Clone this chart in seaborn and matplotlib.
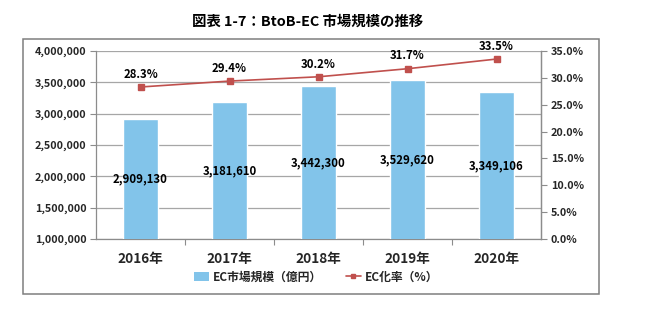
import matplotlib
matplotlib.use("Agg")
import matplotlib.pyplot as plt
import matplotlib.patches as mpatches
from matplotlib.lines import Line2D
from matplotlib.ticker import FuncFormatter, MultipleLocator, FixedLocator
import seaborn as sns
import pandas as pd

sns.set_theme(style="white")
plt.rcParams["font.family"] = ["Noto Sans CJK JP", "DejaVu Sans"]
plt.rcParams["font.weight"] = "bold"

# Data
years = ["2016年", "2017年", "2018年", "2019年", "2020年"]
market_size = [2909130, 3181610, 3442300, 3529620, 3349106]   # 億円
ec_rate = [28.3, 29.4, 30.2, 31.7, 33.5]                      # %

title = "図表 1-7：BtoB-EC 市場規模の推移"
bar_label = "EC市場規模（億円）"
line_label = "EC化率（%）"

bar_color = "#82C4EA"
line_color = "#C0504D"
grid_color = "#A6A6A6"
axis_color = "#8C8C8C"

df = pd.DataFrame({"year": years, "size": market_size, "rate": ec_rate})

fig = plt.figure(figsize=(6.45, 3.32), dpi=100)
ax = fig.add_axes([96 / 645, 1 - 239 / 332, 445 / 645, 188 / 332])

# Outer chart frame
frame = mpatches.Rectangle((23 / 645, 1 - 293.5 / 332), 576 / 645, 255 / 332,
                           transform=fig.transFigure, fill=False,
                           edgecolor="#7F7F7F", linewidth=1.1, zorder=0)
fig.patches.append(frame)

sns.barplot(data=df, x="year", y="size", color=bar_color, width=0.4,
            saturation=1, ax=ax, zorder=3)
ax.set_ylim(1000000, 4000000)
ax.set_xlim(-0.5, len(years) - 0.5)
ax.yaxis.set_major_locator(MultipleLocator(500000))
ax.yaxis.set_major_formatter(FuncFormatter(lambda v, p: f"{int(v):,}"))
ax.grid(axis="y", color=grid_color, linewidth=0.9, zorder=0)
ax.set_axisbelow(True)
ax.set_xlabel("")
ax.set_ylabel("")

for s in ["left", "bottom", "right"]:
    ax.spines[s].set_color(axis_color)
    ax.spines[s].set_linewidth(0.9)
ax.spines["top"].set_visible(False)

ax.tick_params(axis="y", length=4, width=0.8, color=axis_color, labelsize=7.8, pad=3)
ax.tick_params(axis="x", which="major", length=0, labelsize=9.8, pad=9)
ax.xaxis.set_minor_locator(FixedLocator([i + 0.5 for i in range(len(years) - 1)]))
ax.tick_params(axis="x", which="minor", length=4, width=0.8, color=axis_color, bottom=True)
for lbl in ax.get_xticklabels() + ax.get_yticklabels():
    lbl.set_fontweight("bold")

# Bar value labels, centred on the visible part of each bar
ymin = ax.get_ylim()[0]
for i, v in enumerate(market_size):
    ax.text(i, (ymin + v) / 2, f"{v:,}", ha="center", va="center",
            fontsize=8.2, fontweight="bold", color="black", zorder=5)

# Secondary axis: EC rate
ax2 = ax.twinx()
ax2.plot(range(len(years)), ec_rate, color=line_color, linewidth=1.2,
         marker="s", markersize=4, markerfacecolor=line_color,
         markeredgecolor=line_color, zorder=4)
ax2.set_ylim(0, 35)
ax2.yaxis.set_major_locator(MultipleLocator(5))
ax2.yaxis.set_major_formatter(FuncFormatter(lambda v, p: f"{v:.1f}%"))
ax2.tick_params(axis="y", length=4, width=0.8, color=axis_color, labelsize=7.8, pad=3)
for lbl in ax2.get_yticklabels():
    lbl.set_fontweight("bold")
for s in ["left", "bottom", "top"]:
    ax2.spines[s].set_visible(False)
ax2.spines["right"].set_color(axis_color)
ax2.spines["right"].set_linewidth(0.9)
ax2.grid(False)

for i, r in enumerate(ec_rate):
    ax2.annotate(f"{r:.1f}%", (i, r), xytext=(0, 4.5), textcoords="offset points",
                 ha="center", va="bottom", fontsize=8.2, fontweight="bold",
                 color="black", zorder=6, annotation_clip=False)

# Title
fig.text(308 / 645, 1 - 22 / 332, title, ha="center", va="center",
         fontsize=10.4, fontweight="bold", color="black")

# Legend
handles = [
    mpatches.Patch(facecolor=bar_color, edgecolor="none", label=bar_label),
    Line2D([0], [0], color=line_color, linewidth=1.2, marker="s",
           markersize=3.5, label=line_label),
]
leg = fig.legend(handles=handles, loc="center", bbox_to_anchor=(316 / 645, 1 - 277 / 332),
                 ncol=2, frameon=False, fontsize=8.5, handlelength=1.3,
                 handletextpad=0.3, columnspacing=2.0, borderpad=0)
for t in leg.get_texts():
    t.set_fontweight("bold")

fig.savefig("out.png", dpi=100, facecolor="white")
